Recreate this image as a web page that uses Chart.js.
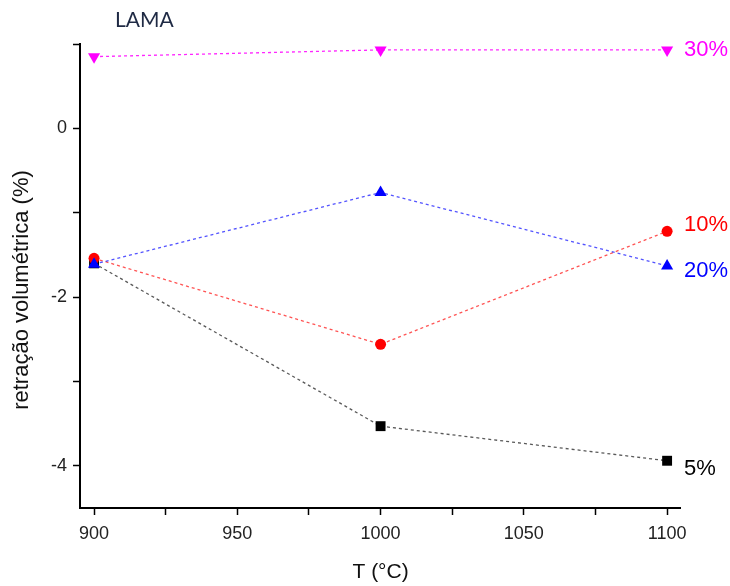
<!DOCTYPE html>
<html><head><meta charset="utf-8">
<script src="https://cdn.jsdelivr.net/npm/chart.js@4/dist/chart.umd.min.js"></script>
<style>html,body{margin:0;padding:0;background:#fff}#w{width:730px;height:586px}</style>
</head><body><div id="w"><canvas id="c"></canvas></div>
<script>
const temps = [900, 1000, 1100];
const s5 = [-1.60, -3.53, -3.94];
const s10 = [-1.54, -2.56, -1.22];
const s20 = [-1.61, -0.76, -1.63];
const s30 = [0.85, 0.93, 0.93];
const seriesNames = ['5%', '10%', '20%', '30%'];
const xTicks = [900, 925, 950, 975, 1000, 1025, 1050, 1075, 1100];
const yTicks = [-4, -3, -2, -1, 0, 1];

const colors = ['#000000', '#ff0000', '#0000ff', '#ff00ff'];
const lineColors = ['rgba(60,60,60,0.85)', 'rgba(255,40,40,0.8)', 'rgba(40,40,255,0.8)', 'rgba(255,0,255,0.85)'];
const styles = ['rect', 'circle', 'triangle', 'triangle'];
const radii = [7, 5.5, 7, 7];
const rots = [0, 0, 0, 180];
const labelDy = [8, -6, 5, 0];
const vals = [s5, s10, s20, s30];

const datasets = vals.map((v, i) => ({
  label: seriesNames[i],
  data: temps.map((t, k) => ({x: t, y: v[k]})),
  borderColor: lineColors[i],
  backgroundColor: colors[i],
  pointBackgroundColor: colors[i],
  pointBorderColor: colors[i],
  pointBorderWidth: 0,
  borderWidth: 1.3,
  borderDash: [3, 3],
  pointStyle: styles[i],
  pointRadius: radii[i],
  pointRotation: rots[i],
  tension: 0,
  order: 3 - i
}));

const deco = {
  id: 'deco',
  afterDraw(chart) {
    const ctx = chart.ctx, xs = chart.scales.x, ys = chart.scales.y, a = chart.chartArea;
    ctx.save();
    ctx.textBaseline = 'middle';
    // series labels
    ctx.font = '22px "Liberation Sans", Arial, sans-serif';
    ctx.textAlign = 'left';
    vals.forEach((v, i) => {
      ctx.fillStyle = colors[i];
      ctx.fillText(seriesNames[i], xs.getPixelForValue(1100) + 17, ys.getPixelForValue(v[2]) + labelDy[i]);
    });
    // title
    ctx.fillStyle = '#1f2a44';
    ctx.font = '21px Lato, "Open Sans", sans-serif';
    ctx.fillText('LAMA', a.left + 35, 20);
    // x title
    ctx.fillStyle = '#111';
    ctx.font = '21px "Liberation Sans", Arial, sans-serif';
    ctx.textAlign = 'center';
    ctx.fillText('T (\u00B0C)', xs.getPixelForValue(1000), 572);
    // y title
    ctx.font = '22px "Liberation Sans", Arial, sans-serif';
    ctx.translate(22, 290);
    ctx.rotate(-Math.PI / 2);
    ctx.fillText('retração volumétrica (%)', 0, 0);
    ctx.restore();
  }
};

new Chart(document.getElementById('c'), {
  type: 'line',
  data: { datasets },
  options: {
    responsive: true,
    maintainAspectRatio: false,
    animation: false,
    layout: { padding: { top: 44, right: 50, left: 0, bottom: 0 } },
    plugins: { legend: { display: false }, tooltip: { enabled: false }, title: { display: false } },
    scales: {
      x: {
        type: 'linear', min: 895.1, max: 1104.5,
        afterBuildTicks: s => { s.ticks = xTicks.map(v => ({value: v})); },
        afterFit: s => { s.height = 78; },
        ticks: { callback: v => (v % 50 === 0 ? v : ''), color: '#222', padding: 8, maxRotation: 0, autoSkip: false,
                 font: { size: 18, family: '"Liberation Sans", Arial, sans-serif' } },
        grid: { drawOnChartArea: false, drawTicks: true, tickLength: 7, tickColor: '#000', tickWidth: 1.5 },
        border: { display: true, color: '#000', width: 2 }
      },
      y: {
        type: 'linear', min: -4.5, max: 1,
        afterBuildTicks: s => { s.ticks = yTicks.map(v => ({value: v})); },
        afterFit: s => { s.width = 80; },
        ticks: { callback: v => (v % 2 === 0 ? v : ''), color: '#222', padding: 6, autoSkip: false,
                 font: { size: 18, family: '"Liberation Sans", Arial, sans-serif' } },
        grid: { drawOnChartArea: false, drawTicks: true, tickLength: 7, tickColor: '#000', tickWidth: 1.5 },
        border: { display: true, color: '#000', width: 2 }
      }
    }
  },
  plugins: [deco]
});
</script></body></html>
